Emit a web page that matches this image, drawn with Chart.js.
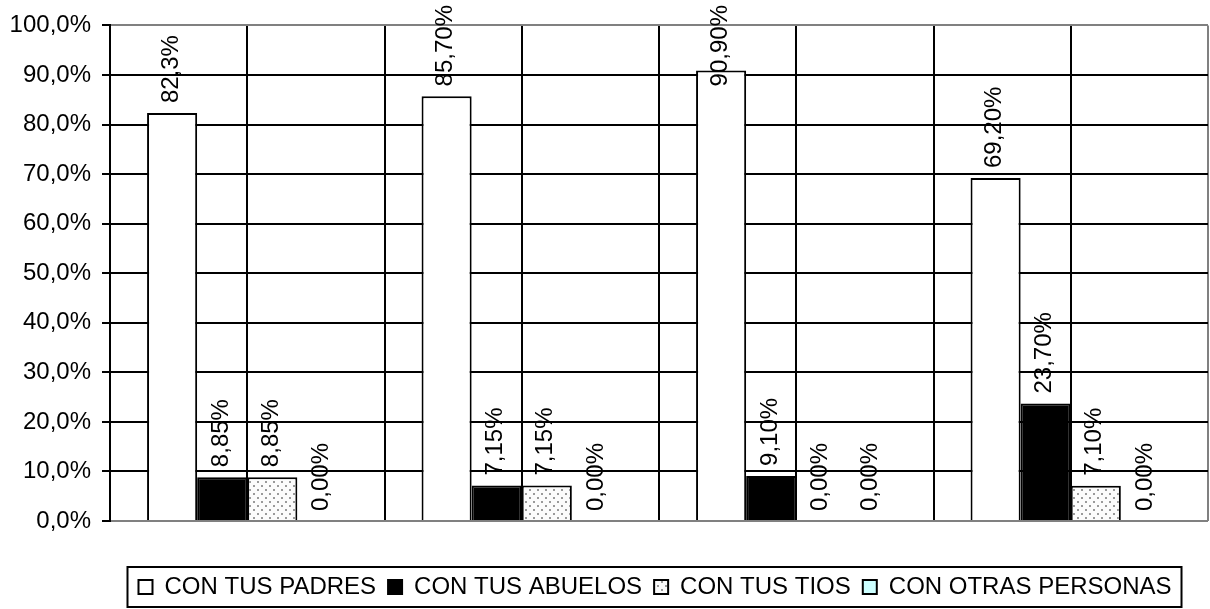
<!DOCTYPE html>
<html>
<head>
<meta charset="utf-8">
<script src="https://cdn.jsdelivr.net/npm/chart.js@4"></script>
<style>
  body { margin: 0; background: #fff; }
  #wrap { width: 1210px; height: 609px; }
</style>
</head>
<body>
<div id="wrap"><canvas id="chart"></canvas></div>
<script>
// data
const groups = ["G1", "G2", "G3", "G4"];
const padres = [82.3, 85.7, 90.9, 69.2];
const abuelos = [8.85, 7.15, 9.1, 23.7];
const tios = [8.85, 7.15, 0, 7.1];
const otras = [0, 0, 0, 0];
const padresLabels = ["82,3%", "85,70%", "90,90%", "69,20%"];
const abuelosLabels = ["8,85%", "7,15%", "9,10%", "23,70%"];
const tiosLabels = ["8,85%", "7,15%", "0,00%", "7,10%"];
const otrasLabels = ["0,00%", "0,00%", "0,00%", "0,00%"];

const FONT = "'Liberation Sans', Arial, sans-serif";

// dotted fill for "con tus tios"
function dotPattern() {
  const c = document.createElement("canvas");
  c.width = 8; c.height = 8;
  const g = c.getContext("2d");
  g.fillStyle = "#fbfbfb";
  g.fillRect(0, 0, 8, 8);
  g.fillStyle = "#999";
  g.fillRect(1, 1, 2, 2);
  g.fillRect(5, 5, 2, 2);
  return g.createPattern(c, "repeat");
}

function tickVal(c) {
  return c && c.tick ? c.tick.value : null;
}

// rotated value labels above each bar (pushed down if they'd leave the canvas)
const barLabels = {
  id: "barLabels",
  afterDatasetsDraw(chart) {
    const ctx = chart.ctx;
    ctx.save();
    ctx.font = "24px " + FONT;
    ctx.fillStyle = "#000";
    ctx.textAlign = "left";
    ctx.textBaseline = "middle";
    chart.data.datasets.forEach((ds, i) => {
      chart.getDatasetMeta(i).data.forEach((bar, j) => {
        const txt = ds.valueLabels[j];
        const w = ctx.measureText(txt).width;
        const start = Math.max(bar.y - 10, 5 + w);
        ctx.save();
        ctx.translate(bar.x - 1, start);
        ctx.rotate(-Math.PI / 2);
        ctx.fillText(txt, 0, 0);
        ctx.restore();
      });
    });
    ctx.restore();
  }
};

// legend sits centred under the plot area, with a frame round it
const legendFrame = {
  id: "legendFrame",
  afterLayout(chart) {
    const l = chart.legend;
    const shift = (chart.chartArea.left + chart.chartArea.right) / 2 - (l.left + l.right) / 2 - 4;
    l.left += shift;
    l.right += shift;
  },
  afterDraw(chart) {
    const l = chart.legend;
    const ctx = chart.ctx;
    const items = l.legendHitBoxes;
    if (!items || !items.length) return;
    const left = items[0].left - 11;
    const last = items[items.length - 1];
    const right = last.left + last.width + 10;
    ctx.save();
    ctx.strokeStyle = "#000";
    ctx.lineWidth = 2;
    ctx.strokeRect(left, items[0].top - 8, right - left, items[0].height + 16);
    ctx.restore();
  }
};

new Chart(document.getElementById("chart"), {
  type: "bar",
  data: {
    labels: groups,
    datasets: [
      { label: "CON TUS PADRES", data: padres, valueLabels: padresLabels,
        backgroundColor: "#fff", borderColor: "#000", borderWidth: 2 },
      { label: "CON TUS ABUELOS", data: abuelos, valueLabels: abuelosLabels,
        backgroundColor: "#000", borderColor: "#000", borderWidth: 2 },
      { label: "CON TUS TIOS", data: tios, valueLabels: tiosLabels,
        backgroundColor: dotPattern(), borderColor: "#000", borderWidth: 2 },
      { label: "CON OTRAS PERSONAS", data: otras, valueLabels: otrasLabels,
        backgroundColor: "#ccffff", borderColor: "#000", borderWidth: 2 }
    ]
  },
  options: {
    responsive: true,
    maintainAspectRatio: false,
    animation: false,
    categoryPercentage: 0.73,
    barPercentage: 1,
    layout: { padding: { left: 0, right: 2, top: 20, bottom: 0 } },
    plugins: {
      tooltip: { enabled: false },
      legend: {
        position: "bottom",
        labels: {
          color: "#000",
          font: { family: FONT, size: 24 },
          boxWidth: 14,
          boxHeight: 14,
          padding: 12
        }
      }
    },
    scales: {
      x: {
        ticks: { display: false },
        grid: { display: false },
        border: { display: false },
        afterFit(s) { s.height = 42; }
      },
      xg: {
        type: "linear",
        position: "bottom",
        min: 0,
        max: 8,
        offset: false,
        ticks: { display: false, stepSize: 1 },
        grid: {
          offset: false,
          drawTicks: false,
          lineWidth: 2,
          color: c => (tickVal(c) === 8 ? "#808080" : "#000")
        },
        border: { display: false },
        afterFit(s) { s.height = 0; }
      },
      y: {
        min: 0,
        max: 100,
        ticks: {
          stepSize: 10,
          color: "#000",
          font: { family: FONT, size: 24 },
          padding: 11,
          callback: v => v.toFixed(1).replace(".", ",") + "%"
        },
        grid: {
          lineWidth: 2,
          tickLength: 8,
          color: c => (tickVal(c) === 0 || tickVal(c) === 100 ? "#808080" : "#000"),
          tickColor: "#000"
        },
        border: { display: true, color: "#000", width: 2 },
        afterFit(s) { s.width = 110; }
      }
    }
  },
  plugins: [barLabels, legendFrame]
});
</script>
</body>
</html>
